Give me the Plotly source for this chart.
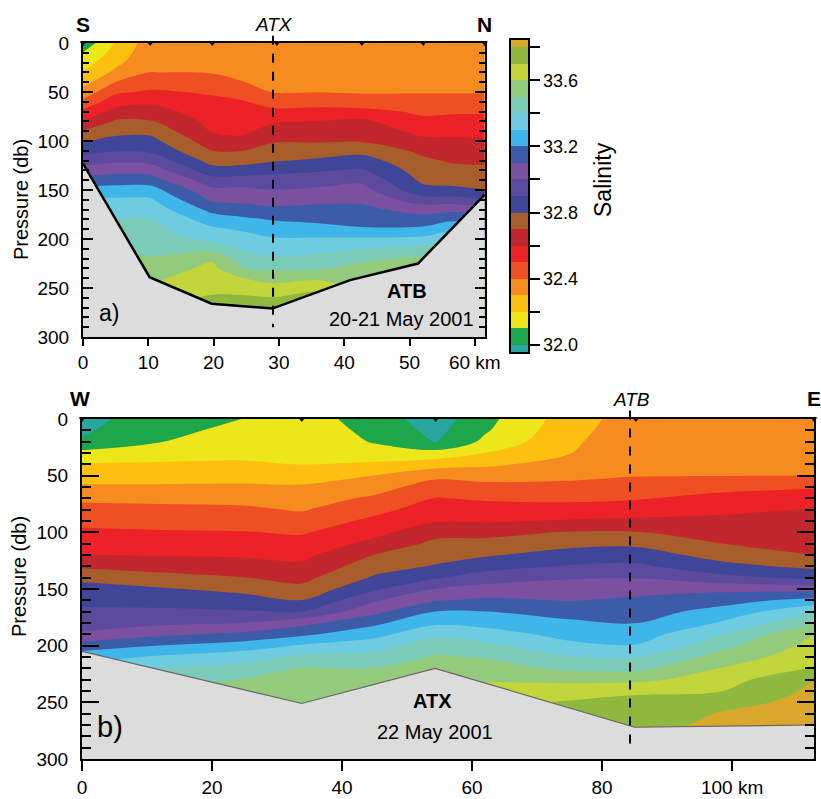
import plotly.graph_objects as go

FONT = "Liberation Sans, Arial, sans-serif"
W, H = 821, 799

# ---------------- colour key (salinity bins, 0.1 wide) ----------------
bin_colors = ["#2aa6a0", "#1ea64a", "#ece61a", "#fdc010", "#f68b1f", "#ee4f23",
              "#ec2227", "#c1272d", "#a85e2b", "#3f4597", "#5b4a9e", "#7b50a0",
              "#3d5ca8", "#3fb6ea", "#6ecbe0", "#7acbb8", "#93ca7c", "#c2d53b",
              "#8fb83e", "#d9a82a"]
level_start, level_end, level_step = 32.0, 33.8, 0.1
cbar_tickvals = [32.0, 32.2, 32.4, 32.6, 32.8, 33.0, 33.2, 33.4, 33.6, 33.8]
cbar_ticktext = ["32.0", "", "32.4", "", "32.8", "", "33.2", "", "33.6", ""]

# ---------------- panel a : ATB section, 20-21 May 2001 ----------------
a_km = [0, 5, 10.3, 19.8, 24.5, 29.1, 36, 42.7, 52.1, 56.5, 61.5]
a_depth = [0, 10, 20, 30, 40, 50, 60, 70, 80, 90, 100, 110, 120, 130, 140,
           150, 160, 170, 180, 190, 200, 210, 220, 230, 240, 250, 260, 270, 280]
a_profiles = [
    [32.03, 32.105, 32.155, 32.206, 32.265, 32.336, 32.43, 32.525, 32.61, 32.708, 32.792, 32.869, 32.95, 33.04, 33.14,
     33.233, 33.311, 33.367, 33.414, 33.448, 33.483, 33.517, 33.55, 33.583, 33.619, 33.656, 33.693, 33.729, 33.764],
    [32.21, 32.237, 32.274, 32.323, 32.402, 32.483, 32.557, 32.633, 32.712, 32.771, 32.831, 32.894, 32.982, 33.067, 33.155,
     33.242, 33.315, 33.365, 33.409, 33.437, 33.466, 33.494, 33.529, 33.564, 33.602, 33.64, 33.68, 33.72, 33.76],
    [32.35, 32.367, 32.383, 32.401, 32.456, 32.513, 32.58, 32.644, 32.707, 32.773, 32.832, 32.884, 32.97, 33.058, 33.15,
     33.242, 33.314, 33.362, 33.405, 33.43, 33.455, 33.48, 33.507, 33.544, 33.581, 33.625, 33.675, 33.72, 33.76],
    [32.35, 32.365, 32.38, 32.395, 32.437, 32.489, 32.52, 32.545, 32.57, 32.595, 32.644, 32.702, 32.762, 32.84, 32.94,
     33.024, 33.082, 33.17, 33.25, 33.318, 33.376, 33.467, 33.588, 33.625, 33.653, 33.681, 33.709, 33.739, 33.77],
    [32.35, 32.362, 32.375, 32.387, 32.401, 32.459, 32.508, 32.533, 32.558, 32.583, 32.623, 32.701, 32.763, 32.844, 32.945,
     33.021, 33.074, 33.142, 33.22, 33.287, 33.34, 33.39, 33.444, 33.502, 33.603, 33.663, 33.714, 33.748, 33.783],
    [32.35, 32.36, 32.37, 32.379, 32.388, 32.398, 32.457, 32.525, 32.588, 32.64, 32.69, 32.74, 32.79, 32.873, 32.941,
     33.002, 33.059, 33.121, 33.193, 33.253, 33.31, 33.36, 33.414, 33.486, 33.562, 33.636, 33.704, 33.742, 33.781],
    [32.35, 32.36, 32.37, 32.379, 32.389, 32.398, 32.46, 32.531, 32.604, 32.648, 32.691, 32.75, 32.815, 32.892, 32.956,
     33.018, 33.076, 33.129, 33.176, 33.238, 33.312, 33.371, 33.429, 33.488, 33.58, 33.68, 33.735, 33.778, 33.82],
    [32.35, 32.359, 32.368, 32.376, 32.385, 32.394, 32.43, 32.538, 32.619, 32.656, 32.693, 32.767, 32.843, 32.913, 32.98,
     33.033, 33.081, 33.124, 33.164, 33.211, 33.317, 33.402, 33.483, 33.529, 33.564, 33.602, 33.675, 33.72, 33.76],
    [32.35, 32.359, 32.368, 32.377, 32.386, 32.395, 32.426, 32.479, 32.527, 32.573, 32.622, 32.678, 32.718, 32.748, 32.779,
     32.83, 32.943, 33.06, 33.143, 33.222, 33.33, 33.433, 33.521, 33.574, 33.62, 33.66, 33.702, 33.733, 33.767],
    [32.35, 32.359, 32.368, 32.377, 32.386, 32.395, 32.429, 32.488, 32.533, 32.575, 32.615, 32.652, 32.689, 32.728, 32.768,
     32.822, 32.943, 33.075, 33.18, 33.28, 33.38, 33.48, 33.544, 33.602, 33.64, 33.68, 33.717, 33.75, 33.783],
    [32.35, 32.359, 32.368, 32.377, 32.386, 32.395, 32.429, 32.488, 32.533, 32.575, 32.614, 32.648, 32.683, 32.72, 32.76,
     32.802, 32.902, 33.038, 33.15, 33.25, 33.35, 33.45, 33.529, 33.588, 33.633, 33.675, 33.714, 33.748, 33.783],
]
a_bottom_km = [0, 10.2, 19.7, 29.0, 40.9, 51.3, 61.5]
a_bottom_db = [123, 239, 266, 271, 242, 225, 155]
a_stations_km = [0, 10.3, 19.8, 29.7, 42.7, 52.1, 61.5]
a_atx_km = 29.1
a_km_max = 61.56
a_xticks = [0, 10, 20, 30, 40, 50, 60]
a_xticktext = ["0", "10", "20", "30", "40", "50", "60 km"]

# ---------------- panel b : ATX section, 22 May 2001 ----------------
b_km = [0, 12, 25, 33.8, 45, 54.4, 62, 75, 85.2, 98, 112.6]
b_depth = [0, 10, 20, 30, 40, 50, 60, 70, 80, 90, 100, 110, 120, 130, 140,
           150, 160, 170, 180, 190, 200, 210, 220, 230, 240, 250, 260, 270, 280]
b_profiles = [
    [31.97, 31.985, 32.013, 32.127, 32.21, 32.26, 32.313, 32.38, 32.43, 32.474, 32.517, 32.558, 32.602, 32.683, 32.78,
     32.833, 32.875, 32.917, 32.961, 33.014, 33.15, 33.255, 33.338, 33.412, 33.471, 33.525, 33.575, 33.625, 33.675],
    [32.05, 32.073, 32.097, 32.153, 32.212, 32.261, 32.313, 32.375, 32.425, 32.467, 32.509, 32.551, 32.594, 32.659, 32.733,
     32.811, 32.863, 32.919, 32.981, 33.078, 33.202, 33.314, 33.406, 33.469, 33.525, 33.575, 33.625, 33.675, 33.725],
    [32.102, 32.126, 32.153, 32.179, 32.211, 32.263, 32.316, 32.368, 32.417, 32.461, 32.504, 32.546, 32.588, 32.641, 32.702,
     32.771, 32.84, 32.909, 33.002, 33.125, 33.25, 33.36, 33.44, 33.504, 33.542, 33.581, 33.625, 33.675, 33.725],
    [32.15, 32.162, 32.174, 32.187, 32.198, 32.256, 32.312, 32.352, 32.392, 32.44, 32.49, 32.533, 32.575, 32.62, 32.67,
     32.729, 32.802, 32.902, 33.071, 33.18, 33.311, 33.422, 33.508, 33.534, 33.561, 33.587, 33.625, 33.675, 33.725],
    [32.05, 32.071, 32.092, 32.143, 32.217, 32.302, 32.359, 32.417, 32.472, 32.524, 32.571, 32.629, 32.702, 32.756, 32.814,
     32.886, 32.989, 33.075, 33.178, 33.267, 33.36, 33.438, 33.502, 33.54, 33.58, 33.622, 33.665, 33.709, 33.755],
    [31.95, 31.971, 31.995, 32.138, 32.256, 32.375, 32.447, 32.504, 32.548, 32.591, 32.667, 32.724, 32.764, 32.808, 32.892,
     33.002, 33.091, 33.202, 33.283, 33.38, 33.453, 33.511, 33.546, 33.582, 33.62, 33.66, 33.702, 33.74, 33.78],
    [32.07, 32.088, 32.123, 32.202, 32.283, 32.362, 32.429, 32.488, 32.54, 32.59, 32.667, 32.733, 32.789, 32.862, 32.95,
     33.038, 33.117, 33.202, 33.267, 33.345, 33.427, 33.493, 33.543, 33.59, 33.631, 33.669, 33.707, 33.744, 33.781],
    [32.25, 32.266, 32.281, 32.297, 32.335, 32.378, 32.426, 32.479, 32.54, 32.61, 32.707, 32.773, 32.84, 32.908, 32.992,
     33.045, 33.095, 33.16, 33.219, 33.267, 33.325, 33.407, 33.479, 33.578, 33.65, 33.709, 33.755, 33.802, 33.83],
    [32.35, 32.359, 32.369, 32.378, 32.387, 32.396, 32.434, 32.491, 32.552, 32.62, 32.705, 32.78, 32.85, 32.92, 32.995,
     33.064, 33.119, 33.159, 33.199, 33.251, 33.306, 33.403, 33.472, 33.575, 33.689, 33.72, 33.743, 33.766, 33.789],
    [32.35, 32.36, 32.37, 32.379, 32.389, 32.398, 32.469, 32.53, 32.58, 32.623, 32.662, 32.702, 32.763, 32.833, 32.933,
     33.075, 33.159, 33.233, 33.308, 33.392, 33.464, 33.533, 33.602, 33.648, 33.695, 33.764, 33.805, 33.82, 33.84],
    [32.35, 32.36, 32.37, 32.38, 32.389, 32.399, 32.49, 32.553, 32.605, 32.628, 32.651, 32.674, 32.698, 32.775, 32.878,
     33.06, 33.233, 33.386, 33.49, 33.602, 33.634, 33.668, 33.708, 33.805, 33.82, 33.83, 33.85, 33.86, 33.87],
]
b_bottom_km = [0, 33.8, 54.3, 85.0, 112.6]
b_bottom_db = [205, 251, 220, 272, 270]
b_stations_km = [0, 33.8, 54.4, 85.2, 112.6]
b_atb_km = 84.3
b_km_max = 112.6
b_xticks = [0, 20, 40, 60, 80, 100]
b_xticktext = ["0", "20", "40", "60", "80", "100 km"]

pressure_max = 300
yticks = [0, 50, 100, 150, 200, 250, 300]


def grid(profiles):
    return [list(row) for row in zip(*profiles)]


n = len(bin_colors)
colorscale = [[i / (n - 1), c] for i, c in enumerate(bin_colors)]
contours = dict(start=level_start, end=level_end, size=level_step,
                coloring="fill", showlines=False)

fig = go.Figure()

fig.add_trace(go.Contour(
    x=a_km, y=a_depth, z=grid(a_profiles), xaxis="x", yaxis="y",
    colorscale=colorscale, autocontour=False, contours=contours,
    line=dict(width=0), hoverinfo="skip", showscale=True,
    colorbar=dict(
        thickness=19, thicknessmode="pixels", len=314, lenmode="pixels",
        x=510 / W, xanchor="left", y=1 - 196 / H, yanchor="middle",
        xpad=0, ypad=0, outlinewidth=2, outlinecolor="black",
        ticks="outside", ticklen=10, tickwidth=2, tickcolor="black",
        tickvals=cbar_tickvals, ticktext=cbar_ticktext,
        tickfont=dict(size=18, family=FONT, color="black"),
    ),
))
fig.add_trace(go.Contour(
    x=b_km, y=b_depth, z=grid(b_profiles), xaxis="x2", yaxis="y2",
    colorscale=colorscale, autocontour=False, contours=contours,
    line=dict(width=0), hoverinfo="skip", showscale=False,
))

# bathymetry (grey sea floor)
fig.add_trace(go.Scatter(
    x=a_bottom_km + [a_bottom_km[-1], a_bottom_km[0]],
    y=a_bottom_db + [pressure_max, pressure_max],
    fill="toself", fillcolor="#dcdcdc", line=dict(width=0), mode="lines",
    xaxis="x", yaxis="y", hoverinfo="skip", showlegend=False))
fig.add_trace(go.Scatter(
    x=a_bottom_km, y=a_bottom_db, mode="lines",
    line=dict(color="black", width=2.5), xaxis="x", yaxis="y",
    hoverinfo="skip", showlegend=False))
fig.add_trace(go.Scatter(
    x=b_bottom_km + [b_bottom_km[-1], b_bottom_km[0]],
    y=b_bottom_db + [pressure_max, pressure_max],
    fill="toself", fillcolor="#dcdcdc", line=dict(width=0), mode="lines",
    xaxis="x2", yaxis="y2", hoverinfo="skip", showlegend=False))
fig.add_trace(go.Scatter(
    x=b_bottom_km, y=b_bottom_db, mode="lines",
    line=dict(color="#666666", width=1.2), xaxis="x2", yaxis="y2",
    hoverinfo="skip", showlegend=False))

# station markers on the top edge
fig.add_trace(go.Scatter(
    x=a_stations_km, y=[0] * len(a_stations_km), mode="markers",
    marker=dict(symbol="triangle-down", size=6, color="black"),
    cliponaxis=False, xaxis="x", yaxis="y", hoverinfo="skip", showlegend=False))
fig.add_trace(go.Scatter(
    x=b_stations_km, y=[0] * len(b_stations_km), mode="markers",
    marker=dict(symbol="triangle-down", size=6, color="black"),
    cliponaxis=False, xaxis="x2", yaxis="y2", hoverinfo="skip", showlegend=False))

# dashed crossing-section lines
fig.add_shape(type="line", xref="x", yref="y domain", x0=a_atx_km, x1=a_atx_km,
              y0=1.025, y1=1 - 290 / pressure_max,
              line=dict(color="black", width=2, dash="dash"))
fig.add_shape(type="line", xref="x2", yref="y2 domain", x0=b_atb_km, x1=b_atb_km,
              y0=1.025, y1=1 - 293 / pressure_max,
              line=dict(color="black", width=2, dash="dash"))

tickfont = dict(size=19, family=FONT, color="black")
common_x = dict(showline=True, linecolor="black", linewidth=2, mirror=True,
                showgrid=False, zeroline=False, ticks="outside", tickwidth=2,
                tickcolor="black", tickfont=tickfont, automargin=False)
common_y = dict(showline=True, linecolor="black", linewidth=2, mirror="allticks",
                showgrid=False, zeroline=False, ticks="inside", tickwidth=2,
                tickcolor="black", tickfont=tickfont, tickvals=yticks,
                range=[pressure_max, 0], ticklabelstandoff=8, automargin=False)

fig.update_layout(
    width=W, height=H, autosize=False,
    margin=dict(l=0, r=0, t=0, b=0, pad=0, autoexpand=False),
    paper_bgcolor="white", plot_bgcolor="#dcdcdc",
    font=dict(family=FONT, color="black"), showlegend=False,
    xaxis=dict(domain=[83 / W, 485 / W], range=[0, a_km_max], anchor="y",
               tickvals=a_xticks, ticktext=a_xticktext, ticklen=7, **common_x),
    yaxis=dict(domain=[1 - 337 / H, 1 - 43 / H], anchor="x", ticklen=10,
               minor=dict(dtick=10, ticklen=6, tickwidth=1.5, ticks="inside",
                          tickcolor="black"), **common_y),
    xaxis2=dict(domain=[82 / W, 814 / W], range=[0, b_km_max], anchor="y2",
                tickvals=b_xticks, ticktext=b_xticktext, ticklen=10, **common_x),
    yaxis2=dict(domain=[1 - 759 / H, 1 - 419 / H], anchor="x2", ticklen=17,
                minor=dict(dtick=10, ticklen=9, tickwidth=1.5, ticks="inside",
                           tickcolor="black"), **common_y),
)


def ann(text, px, py, size, bold=False, italic=False, angle=0):
    if bold:
        text = "<b>" + text + "</b>"
    if italic:
        text = "<i>" + text + "</i>"
    fig.add_annotation(text=text, x=px / W, y=1 - py / H, xref="paper", yref="paper",
                       showarrow=False, textangle=angle, xanchor="center", yanchor="middle",
                       font=dict(size=size, family=FONT, color="black"))


ann("S", 83, 24, 21, bold=True)
ann("N", 484, 24, 21, bold=True)
ann("ATX", 274, 25, 19, italic=True)
ann("W", 80, 398, 21, bold=True)
ann("E", 814, 398, 21, bold=True)
ann("ATB", 631, 399, 19, italic=True)
ann("a)", 109, 313, 23)
ann("b)", 110, 727, 29)
ann("ATB", 407, 291, 20, bold=True)
ann("20-21 May 2001", 401, 319, 20)
ann("ATX", 432, 701, 20, bold=True)
ann("22 May 2001", 435, 732, 20)
ann("Pressure (db)", 21, 200, 20, angle=-90)
ann("Pressure (db)", 19, 577, 20, angle=-90)
ann("Salinity", 603, 180, 23, angle=-90)

fig.write_html(
    "out.html",
    config={"displayModeBar": False, "responsive": False},
    post_script="document.body.style.margin='0px';"
                "document.documentElement.style.overflow='hidden';",
)
